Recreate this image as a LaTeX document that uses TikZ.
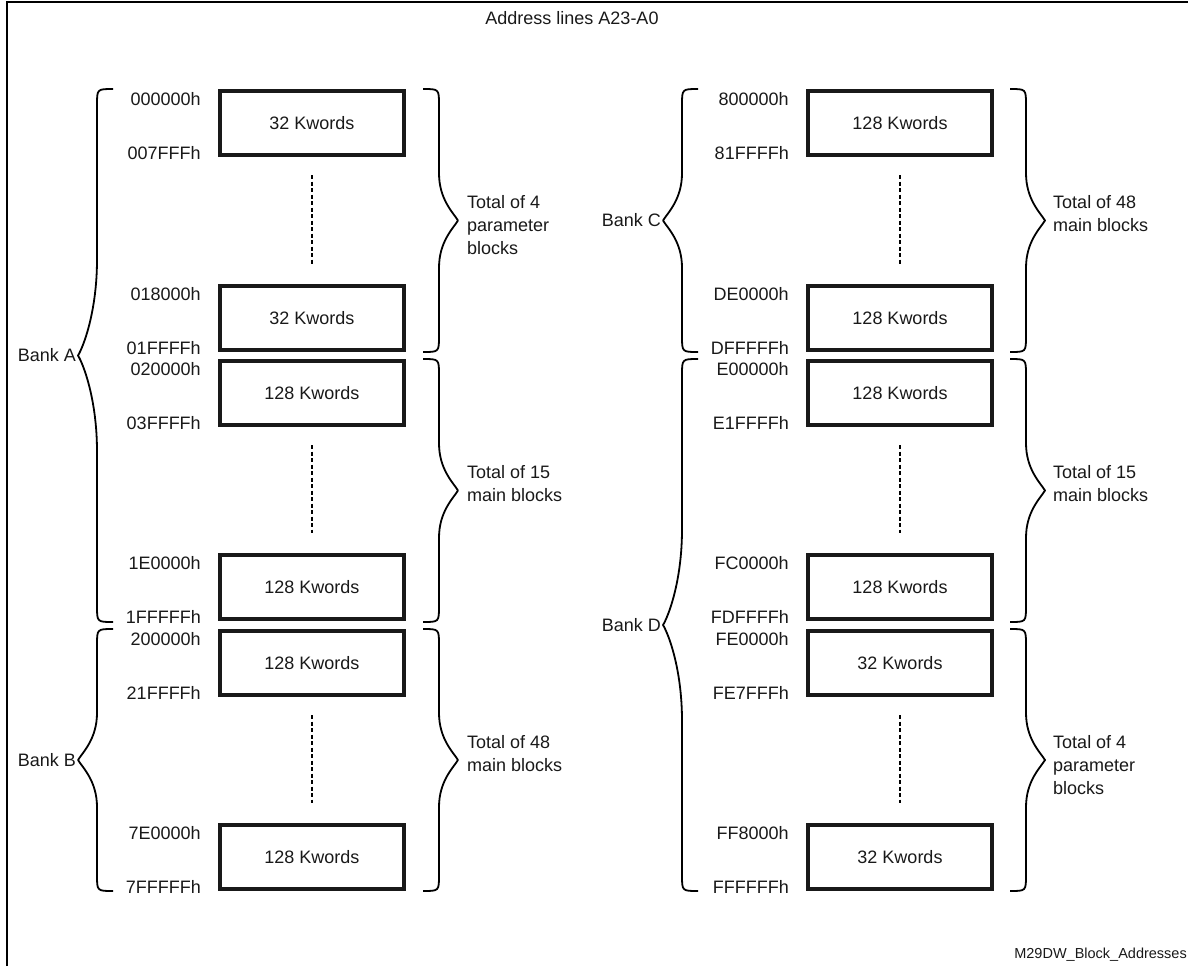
\documentclass[tikz,border=0pt]{standalone}
\usepackage{fontspec}
\setmainfont{Liberation Sans}
\newcommand\drawbrace[4]{%
 \pgfmathsetmacro\bym{(#2+#3)/2}%
 \pgfmathsetmacro\bcl{0.36*(#3-#2)/2}%
 \pgfmathsetmacro\bxv{#1-16*#4}%
 \pgfmathsetmacro\bxt{#1-35*#4}%
 \pgfmathsetmacro\bxa{\bxt+5*#4}%
 \draw[brc] (#1,#2) .. controls (\bxv,#2) .. (\bxv,#2+16) -- (\bxv,\bym-\bcl)
   .. controls (\bxv,\bym-0.45*\bcl) and (\bxa,\bym-8) .. (\bxt,\bym)
   .. controls (\bxa,\bym+8) and (\bxv,\bym+0.45*\bcl) .. (\bxv,\bym+\bcl)
   -- (\bxv,#3-16) .. controls (\bxv,#3) .. (#1,#3);
}
\begin{document}
\begin{tikzpicture}[x=1pt,y=-1pt,
  every node/.style={font=\fontsize{18}{23}\selectfont, text=black!90},
  blk/.style={draw=black!90, line width=3.6pt, minimum width=184.5pt, minimum height=64.5pt, inner sep=0pt},
  addr/.style={anchor=base east, inner sep=0pt},
  dots/.style={line width=2.2pt, dash pattern=on 4pt off 2.5pt, shorten <=18pt, shorten >=20pt},
  brc/.style={line width=1.8pt, line join=round},
  bank/.style={anchor=east, inner sep=0pt},
  tot/.style={anchor=north west, align=left, inner sep=0pt},
  frame/.style={line width=2.4pt}]
\useasboundingbox (0,0) rectangle (1188,966);
\draw[frame] (7,966) -- (7,2) -- (1188,2);
\node (title) at (572,18) {Address lines A23-A0};
\node[anchor=base east, inner sep=0pt, font=\fontsize{14.5}{17}\selectfont] (foot) at (1187,958) {M29DW\_Block\_Addresses};
% boxes
\foreach \n/\x/\y/\t/\a/\b in {
  b1/312/123/32/000000h/007FFFh,
  b2/312/318/32/018000h/01FFFFh,
  b3/312/393/128/020000h/03FFFFh,
  b4/312/587/128/1E0000h/1FFFFFh,
  b5/312/663/128/200000h/21FFFFh,
  b6/312/857/128/7E0000h/7FFFFFh,
  c1/900/123/128/800000h/81FFFFh,
  c2/900/318/128/DE0000h/DFFFFFh,
  c3/900/393/128/E00000h/E1FFFFh,
  c4/900/587/128/FC0000h/FDFFFFh,
  c5/900/663/32/FE0000h/FE7FFFh,
  c6/900/857/32/FF8000h/FFFFFFh}{
  \node[blk] (\n) at (\x,\y) {\t{} Kwords};
  \node[addr] (\n a) at ([xshift=-17pt,yshift=-16.5pt]\n.north west) {\a};
  \node[addr] (\n b) at ([xshift=-17pt,yshift=-2pt]\n.south west) {\b};
}
\draw[dots] (b1.south) -- (b2.north);
\draw[dots] (b3.south) -- (b4.north);
\draw[dots] (b5.south) -- (b6.north);
\draw[dots] (c1.south) -- (c2.north);
\draw[dots] (c3.south) -- (c4.north);
\draw[dots] (c5.south) -- (c6.north);
% bank braces
\drawbrace{113}{89}{622}{1}
\drawbrace{113}{629}{891}{1}
\drawbrace{698}{89}{352}{1}
\drawbrace{698}{359}{891}{1}
% group braces
\drawbrace{423}{89}{352}{-1}
\drawbrace{423}{359}{622}{-1}
\drawbrace{423}{629}{891}{-1}
\drawbrace{1010}{89}{352}{-1}
\drawbrace{1010}{359}{622}{-1}
\drawbrace{1010}{629}{891}{-1}
% bank labels
\node[bank] (bankA) at (76,355) {Bank A};
\node[bank] (bankB) at (76,760) {Bank B};
\node[bank] (bankC) at (661,220) {Bank C};
\node[bank] (bankD) at (661,625) {Bank D};
% totals
\node[tot] (t1) at (467,195) {Total of 4\\parameter\\blocks};
\node[tot] (t2) at (467,465) {Total of 15\\main blocks};
\node[tot] (t3) at (467,735) {Total of 48\\main blocks};
\node[tot] (t4) at (1053,195) {Total of 48\\main blocks};
\node[tot] (t5) at (1053,465) {Total of 15\\main blocks};
\node[tot] (t6) at (1053,735) {Total of 4\\parameter\\blocks};
\end{tikzpicture}
\end{document}
